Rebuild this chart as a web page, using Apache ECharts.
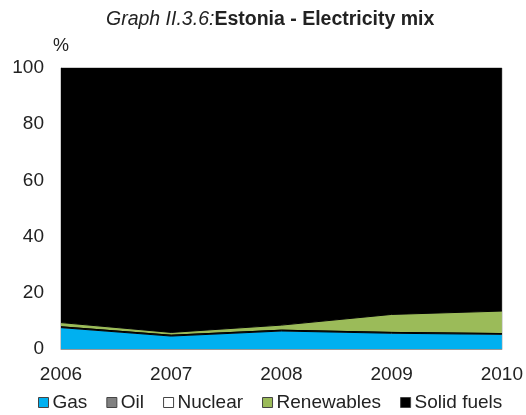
<!DOCTYPE html>
<html><head><meta charset="utf-8">
<script src="https://cdn.jsdelivr.net/npm/echarts@6/dist/echarts.min.js"></script>
<style>html,body{margin:0;padding:0;background:#fff}#c{width:526px;height:415px}</style>
</head><body><div id="c"></div>
<script>
const years = ['2006','2007','2008','2009','2010'];
const gas = [7.6, 4.6, 6.4, 5.6, 5.2];
const oil = [0.3, 0.3, 0.3, 0.3, 0.3];
const nuclear = [0, 0, 0, 0, 0];
const renewables = [1.5, 1.0, 1.8, 6.4, 8.0];
const solidFuels = years.map((_, i) => +(100 - gas[i] - oil[i] - nuclear[i] - renewables[i]).toFixed(1));
const yTicks = [0, 20, 40, 60, 80, 100];

const names = ['Gas','Oil','Nuclear','Renewables','Solid fuels'];
const colors = ['#00B0F0','#808080','#FFFFFF','#9BBB59','#000000'];
const values = [gas, oil, nuclear, renewables, solidFuels];

const chart = echarts.init(document.getElementById('c'));
const F = '"Liberation Sans", Arial, sans-serif';
chart.setOption({
  animation: false,
  textStyle: {fontFamily: F},
  title: {
    text: '{i|Graph II.3.6:}{b|Estonia - Electricity mix}',
    left: 101, top: 5,
    textStyle: {rich: {
      i: {fontStyle: 'italic', fontWeight: 'normal', fontSize: 19.5, color: '#222', fontFamily: F},
      b: {fontWeight: 'bold', fontSize: 19.5, color: '#222', fontFamily: F}
    }}
  },
  legend: {
    top: 388, left: 33,
    itemWidth: 10, itemHeight: 10, itemGap: 19,
    icon: 'rect',
    textStyle: {fontSize: 19, color: '#222', padding: [0,0,0,-1]},
    data: names.map((n, i) => ({name: n, itemStyle: {color: colors[i], borderColor: '#444', borderWidth: 1}}))
  },
  grid: {left: 61, right: 24, top: 68, bottom: 66, show: true, borderColor: '#999', borderWidth: 1},
  xAxis: {
    type: 'category', data: years, boundaryGap: false,
    axisLine: {lineStyle: {color: '#999'}},
    axisTick: {show: false},
    axisLabel: {fontSize: 19, color: '#222', margin: 16, showMinLabel: true, showMaxLabel: true}
  },
  yAxis: {
    type: 'value', min: 0, max: 100, interval: 20,
    name: '%', nameLocation: 'end', nameGap: 13,
    nameTextStyle: {fontSize: 18, color: '#222', align: 'center'},
    axisLine: {show: true, lineStyle: {color: '#999'}},
    axisTick: {show: true, inside: true, length: 5, lineStyle: {color: '#999'}},
    splitLine: {show: false},
    axisLabel: {fontSize: 19, color: '#222', margin: 17,
      formatter: v => yTicks.includes(v) ? String(v) : ''}
  },
  series: names.map((n, i) => ({
    name: n, type: 'line', stack: 'total', data: values[i],
    symbol: 'none',
    lineStyle: {color: '#000', width: i === 4 ? 0 : 1},
    itemStyle: {color: colors[i]},
    areaStyle: {color: colors[i], opacity: 1}
  }))
});
</script></body></html>
